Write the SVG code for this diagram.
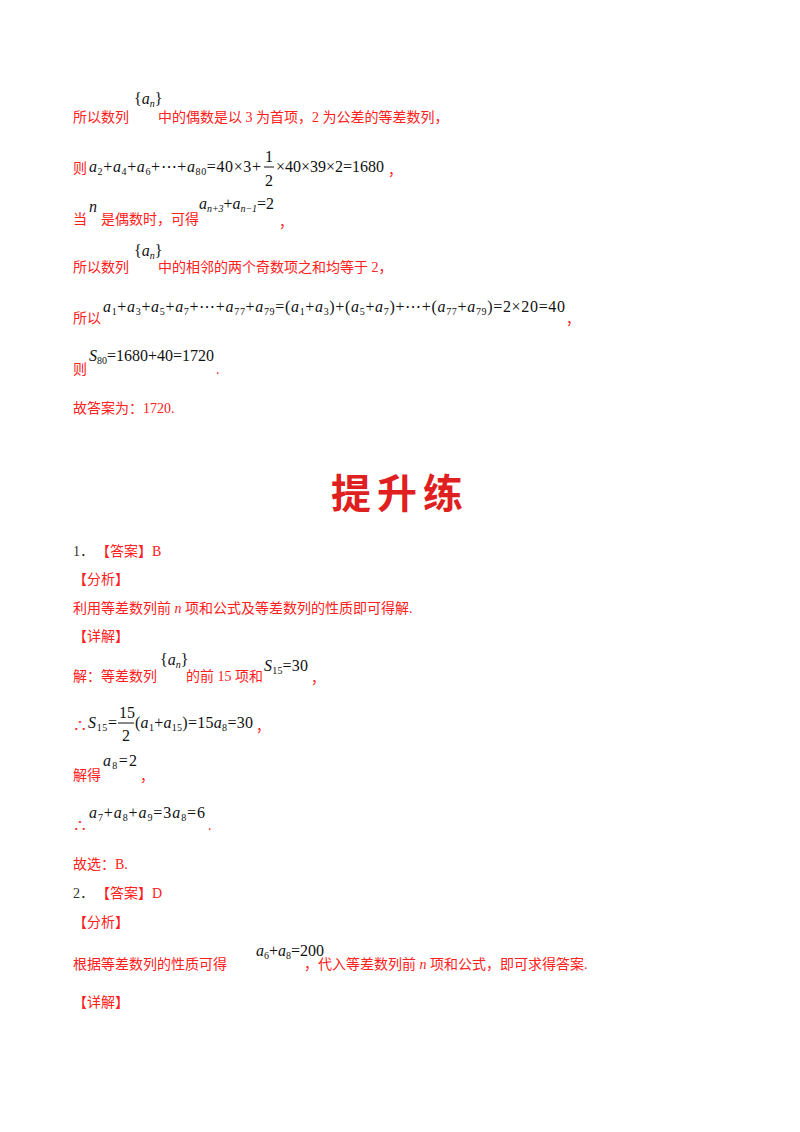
<svg xmlns="http://www.w3.org/2000/svg" width="800" height="1132" viewBox="0 0 800 1132">
<style>
.c{font-family:"Liberation Serif","Noto Sans CJK SC",serif;font-size:14px;fill:#ff2020}
.k{font-family:"Liberation Serif","Noto Sans CJK SC",serif;font-size:14px;fill:#333}
.m{font-family:"Liberation Serif",serif;font-size:16px;fill:#111}
.i{font-style:italic}
.s{font-size:10px}
.t{font-family:"Noto Sans CJK SC",sans-serif;font-size:40px;fill:#e02020;font-weight:bold}
</style>
<rect width="800" height="1132" fill="#fff"/>
<text class="c" x="73" y="122">所以数列</text>
<text class="m" x="134" y="104">{<tspan class="i">a</tspan><tspan class="s i" dy="3">n</tspan><tspan dy="-3">}</tspan></text>
<text class="c" x="158" y="122">中的偶数是以 3 为首项，2 为公差的等差数列，</text>

<text class="c" x="73" y="173">则</text>
<text class="m" x="89" y="172" textLength="172" lengthAdjust="spacing"><tspan class="i">a</tspan><tspan class="s" dy="3">2</tspan><tspan dy="-3">+</tspan><tspan class="i">a</tspan><tspan class="s" dy="3">4</tspan><tspan dy="-3">+</tspan><tspan class="i">a</tspan><tspan class="s" dy="3">6</tspan><tspan dy="-3">+⋯+</tspan><tspan class="i">a</tspan><tspan class="s" dy="3">80</tspan><tspan dy="-3">=40×3+</tspan></text>
<text class="m" x="265" y="162">1</text>
<line x1="264" y1="167" x2="274" y2="167" stroke="#111" stroke-width="1"/>
<text class="m" x="265" y="186">2</text>
<text class="m" x="276" y="172" textLength="108" lengthAdjust="spacing">×40×39×2=1680</text>
<text class="c" x="388" y="175">，</text>

<text class="c" x="73" y="224">当</text>
<text class="m i" x="89" y="212">n</text>
<text class="c" x="101" y="224">是偶数时，可得</text>
<text class="m" x="199" y="209" textLength="75" lengthAdjust="spacing"><tspan class="i">a</tspan><tspan class="s i" dy="3">n+3</tspan><tspan dy="-3">+</tspan><tspan class="i">a</tspan><tspan class="s i" dy="3">n−1</tspan><tspan dy="-3">=2</tspan></text>
<text class="c" x="279" y="227">，</text>

<text class="c" x="73" y="272">所以数列</text>
<text class="m" x="134" y="256">{<tspan class="i">a</tspan><tspan class="s i" dy="3">n</tspan><tspan dy="-3">}</tspan></text>
<text class="c" x="158" y="272">中的相邻的两个奇数项之和均等于 2，</text>

<text class="c" x="73" y="323">所以</text>
<text class="m" x="103" y="312" textLength="462" lengthAdjust="spacing"><tspan class="i">a</tspan><tspan class="s" dy="3">1</tspan><tspan dy="-3">+</tspan><tspan class="i">a</tspan><tspan class="s" dy="3">3</tspan><tspan dy="-3">+</tspan><tspan class="i">a</tspan><tspan class="s" dy="3">5</tspan><tspan dy="-3">+</tspan><tspan class="i">a</tspan><tspan class="s" dy="3">7</tspan><tspan dy="-3">+⋯+</tspan><tspan class="i">a</tspan><tspan class="s" dy="3">77</tspan><tspan dy="-3">+</tspan><tspan class="i">a</tspan><tspan class="s" dy="3">79</tspan><tspan dy="-3">=(</tspan><tspan class="i">a</tspan><tspan class="s" dy="3">1</tspan><tspan dy="-3">+</tspan><tspan class="i">a</tspan><tspan class="s" dy="3">3</tspan><tspan dy="-3">)+(</tspan><tspan class="i">a</tspan><tspan class="s" dy="3">5</tspan><tspan dy="-3">+</tspan><tspan class="i">a</tspan><tspan class="s" dy="3">7</tspan><tspan dy="-3">)+⋯+(</tspan><tspan class="i">a</tspan><tspan class="s" dy="3">77</tspan><tspan dy="-3">+</tspan><tspan class="i">a</tspan><tspan class="s" dy="3">79</tspan><tspan dy="-3">)=2×20=40</tspan></text>
<text class="c" x="566" y="324">，</text>

<text class="c" x="73" y="374">则</text>
<text class="m" x="89" y="361" textLength="125" lengthAdjust="spacing"><tspan class="i">S</tspan><tspan class="s" dy="3">80</tspan><tspan dy="-3">=1680+40=1720</tspan></text>
<text class="c" x="216" y="374">.</text>

<text class="c" x="73" y="413">故答案为：1720.</text>

<text class="t" x="400" y="508" text-anchor="middle" letter-spacing="6">提升练</text>

<text class="k" x="73" y="556">1．</text>
<text class="c" x="96" y="556">【答案】B</text>
<text class="c" x="73" y="584">【分析】</text>
<text class="c" x="73" y="613">利用等差数列前 <tspan font-style="italic">n</tspan> 项和公式及等差数列的性质即可得解.</text>
<text class="c" x="73" y="641">【详解】</text>
<text class="c" x="73" y="681">解：等差数列</text>
<text class="m" x="160" y="665">{<tspan class="i">a</tspan><tspan class="s i" dy="3">n</tspan><tspan dy="-3">}</tspan></text>
<text class="c" x="186" y="681">的前 15 项和</text>
<text class="m" x="264" y="671" textLength="44" lengthAdjust="spacing"><tspan class="i">S</tspan><tspan class="s" dy="3">15</tspan><tspan dy="-3">=30</tspan></text>
<text class="c" x="311" y="683">，</text>

<text class="c" x="73" y="730">∴</text>
<text class="m" x="88" y="728" textLength="29" lengthAdjust="spacing"><tspan class="i">S</tspan><tspan class="s" dy="3">15</tspan><tspan dy="-3">=</tspan></text>
<text class="m" x="119" y="718">15</text>
<line x1="118" y1="723" x2="134" y2="723" stroke="#111" stroke-width="1"/>
<text class="m" x="122" y="741">2</text>
<text class="m" x="135" y="728" textLength="118" lengthAdjust="spacing">(<tspan class="i">a</tspan><tspan class="s" dy="3">1</tspan><tspan dy="-3">+</tspan><tspan class="i">a</tspan><tspan class="s" dy="3">15</tspan><tspan dy="-3">)=15</tspan><tspan class="i">a</tspan><tspan class="s" dy="3">8</tspan><tspan dy="-3">=30</tspan></text>
<text class="c" x="256" y="731">，</text>

<text class="c" x="73" y="780">解得</text>
<text class="m" x="103" y="766" textLength="34" lengthAdjust="spacing"><tspan class="i">a</tspan><tspan class="s" dy="3">8</tspan><tspan dy="-3">=2</tspan></text>
<text class="c" x="140" y="781">，</text>

<text class="c" x="73" y="830">∴</text>
<text class="m" x="89" y="818" textLength="116" lengthAdjust="spacing"><tspan class="i">a</tspan><tspan class="s" dy="3">7</tspan><tspan dy="-3">+</tspan><tspan class="i">a</tspan><tspan class="s" dy="3">8</tspan><tspan dy="-3">+</tspan><tspan class="i">a</tspan><tspan class="s" dy="3">9</tspan><tspan dy="-3">=3</tspan><tspan class="i">a</tspan><tspan class="s" dy="3">8</tspan><tspan dy="-3">=6</tspan></text>
<text class="c" x="208" y="830">.</text>

<text class="c" x="73" y="869">故选：B.</text>
<text class="k" x="73" y="898">2．</text>
<text class="c" x="96" y="898">【答案】D</text>
<text class="c" x="73" y="927">【分析】</text>
<text class="c" x="73" y="969">根据等差数列的性质可得</text>
<text class="m" x="256" y="956" font-size="13"><tspan class="i">a</tspan><tspan class="s" font-size="8" dy="3">6</tspan><tspan dy="-3">+</tspan><tspan class="i">a</tspan><tspan class="s" font-size="8" dy="3">8</tspan><tspan dy="-3">=200</tspan></text>
<text class="c" x="304" y="969">，代入等差数列前 <tspan font-style="italic">n</tspan> 项和公式，即可求得答案.</text>
<text class="c" x="73" y="1007">【详解】</text>
</svg>
